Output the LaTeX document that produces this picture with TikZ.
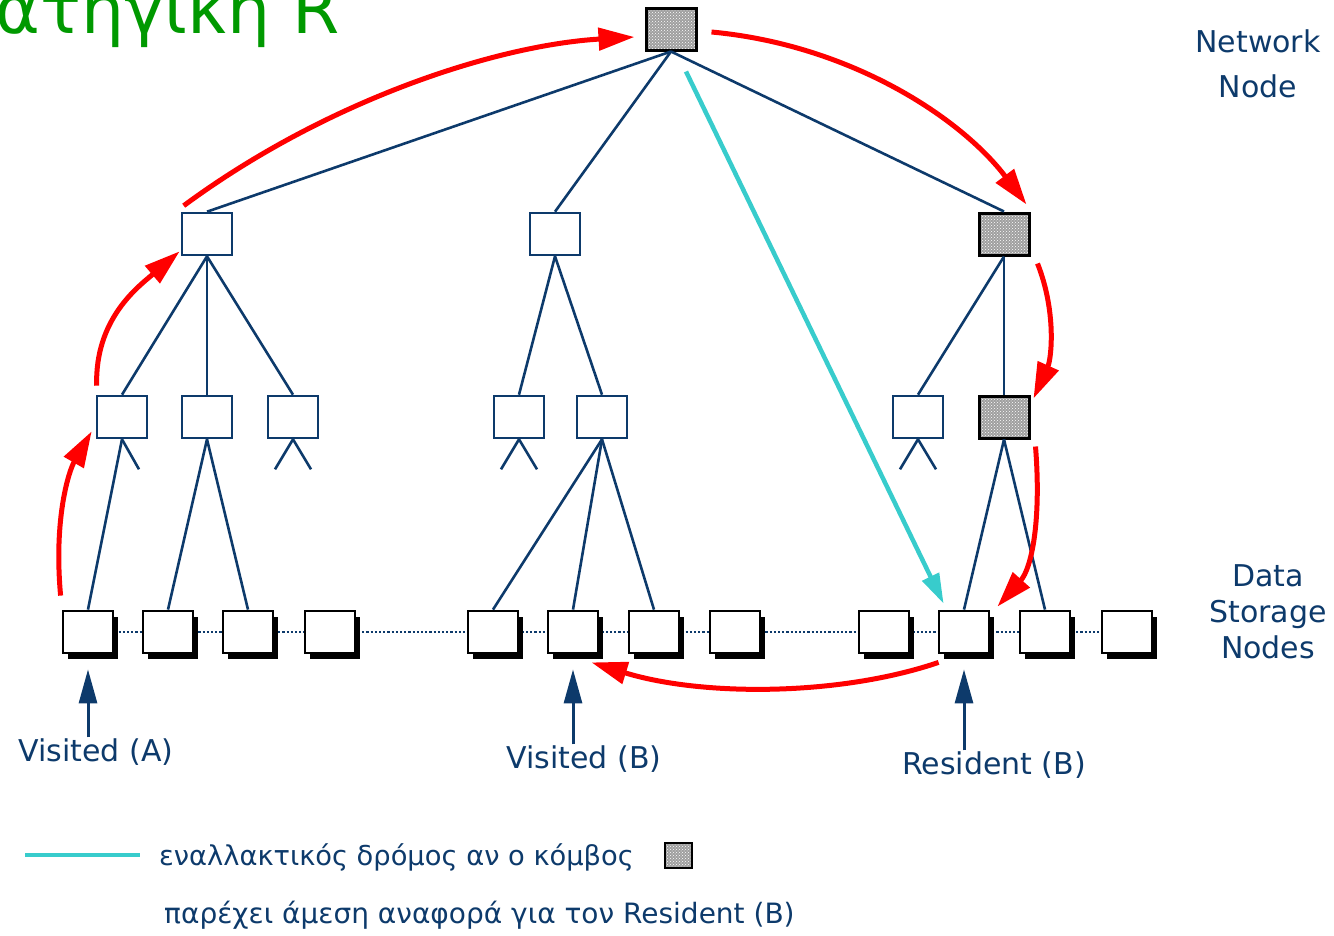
\documentclass[tikz,border=0pt]{standalone}
\usepackage{fontspec}
\setmainfont{DejaVu Sans}
\usepackage{xcolor}
\usepackage{tikz}
\usetikzlibrary{calc,arrows.meta,patterns,shadows,backgrounds}
\definecolor{navy}{HTML}{0D3A6B}
\definecolor{hot}{HTML}{FF0000}
\definecolor{altcol}{HTML}{38CCCC}
\definecolor{title}{HTML}{009900}
\tikzset{
  link/.style={draw=navy, line width=2.6pt},
  tnode/.style={draw=navy, line width=2.6pt, fill=white, minimum width=50pt, minimum height=42pt, inner sep=0pt},
  busy/.style={draw=black, line width=3pt, preaction={fill=gray!75}, pattern=crosshatch dots, pattern color=white,
    minimum width=50pt, minimum height=42pt, inner sep=0pt},
  store/.style={draw=black, line width=2.8pt, fill=white, minimum width=50pt, minimum height=42pt, inner sep=0pt,
    drop shadow={shadow xshift=5pt, shadow yshift=-6pt, opacity=1, fill=black}},
  chain/.style={draw=navy, line width=2.2pt, dotted},
  hop/.style={draw=hot, line width=5pt, -{Triangle[length=36pt,width=22pt]}},
  alt/.style={draw=altcol, line width=4.5pt},
  uparrow/.style={draw=navy, line width=3pt, -{Triangle[length=34pt,width=18pt]}},
  lbl/.style={text=navy, inner sep=1pt, font=\fontsize{30}{36}\selectfont}
}

\begin{document}
\begin{tikzpicture}[x=1pt, y=-1pt]
  \useasboundingbox (0,0) rectangle (1334,935);

  % tree
  \node[busy]  (root) at (671,29) {};
  \node[tnode] (inA) at (207,234) {};
  \node[tnode] (inB) at (555,234) {};
  \node[busy]  (inC) at (1004,234) {};
  \node[tnode] (mA1) at (122,417) {};
  \node[tnode] (mA2) at (207,417) {};
  \node[tnode] (mA3) at (293,417) {};
  \node[tnode] (mB1) at (519,417) {};
  \node[tnode] (mB2) at (602,417) {};
  \node[tnode] (mC1) at (918,417) {};
  \node[busy]  (mC2) at (1004,417) {};

  % data storage nodes
  \foreach \i/\x in {1/88,2/168,3/248,4/330,5/493,6/573,7/654,8/735,9/884,10/964,11/1045,12/1127}
    \node[store] (d\i) at (\x,632) {};
  \begin{pgfonlayer}{background}
    \draw[chain] (d1) -- (d12);
  \end{pgfonlayer}

  \foreach \c in {inA,inB,inC} \draw[link] (root.south) -- (\c.north);
  \foreach \c in {mA1,mA2,mA3} \draw[link] (inA.south) -- (\c.north);
  \foreach \c in {mB1,mB2} \draw[link] (inB.south) -- (\c.north);
  \foreach \c in {mC1,mC2} \draw[link] (inC.south) -- (\c.north);
  \draw[link] (mA1.south) -- (d1.north);
  \draw[link] (mA1.south) -- ($(mA1.south)+(17,30)$);
  \foreach \c in {d2,d3} \draw[link] (mA2.south) -- (\c.north);
  \foreach \c in {d5,d6,d7} \draw[link] (mB2.south) -- (\c.north);
  \foreach \c in {d10,d11} \draw[link] (mC2.south) -- (\c.north);
  \foreach \n in {mA3,mB1,mC1}
    \draw[link] ($(\n.south)+(-18,30)$) -- (\n.south) -- ($(\n.south)+(18,30)$);

  % side labels
  \node[lbl, align=center, font=\fontsize{30}{45}\selectfont] (netlbl) at (1258,64) {Network\\Node};
  \node[lbl, align=center] (datalbl) at (1268,612) {Data\\Storage\\Nodes};
  \node[text=title, anchor=base east, font=\fontsize{68}{80}\selectfont] (strat) at (343,33) {Στρατηγική R};

  % pointers
  \node[lbl] (visA) at (96,752) {Visited (A)};
  \node[lbl] (visB) at (584,759) {Visited (B)};
  \node[lbl] (resB) at (994,765) {Resident (B)};
  \draw[uparrow, shorten >=15pt] (visA.north -| d1) -- (d1.south);
  \draw[uparrow, shorten >=15pt] (visB.north -| d6) -- (d6.south);
  \draw[uparrow, shorten >=15pt] (resB.north -| d10) -- (d10.south);

  % red path
  \coordinate (r1s) at ($(d1.north west)+(-1,-14)$);
  \coordinate (r1e) at ($(mA1.south west)+(-4,-8)$);
  \coordinate (r2s) at ($(mA1.north west)+(1,-9)$);
  \coordinate (r2e) at ($(inA.south west)+(-1,-5)$);
  \coordinate (r3s) at ($(inA.north west)+(3,-6)$);
  \coordinate (r3e) at ($(root.west)+(-10,8)$);
  \coordinate (r4s) at ($(root.east)+(14,3)$);
  \coordinate (r4e) at ($(inC.north east)+(-4,-7)$);
  \coordinate (r5s) at ($(inC.south east)+(7,7)$);
  \coordinate (r5e) at ($(mC2.north east)+(3,4)$);
  \coordinate (r6s) at ($(mC2.south east)+(5,7)$);
  \coordinate (r6e) at ($(d10.north east)+(7,-3)$);
  \coordinate (r7s) at ($(d10.south west)+(1,8)$);
  \coordinate (r7e) at ($(d6.south east)+(-8,8)$);
  \draw[hop] (r1s) .. controls ($(r1s)+(-7,-77)$) and ($(r1e)+(-23,40)$) .. (r1e);
  \draw[hop] (r2s) .. controls ($(r2s)+(-2,-67)$) and ($(r2e)+(-41,35)$) .. (r2e);
  \draw[hop] (r3s) .. controls ($(r3s)+(145,-107)$) and ($(r3e)+(-136,8)$) .. (r3e);
  \draw[hop] (r4s) .. controls ($(r4s)+(140,13)$) and ($(r4e)+(-65,-86)$) .. (r4e);
  \draw[hop] (r5s) .. controls ($(r5s)+(19,48)$) and ($(r5e)+(18,-40)$) .. (r5e);
  \draw[hop] (r6s) .. controls ($(r6s)+(6,75)$) and ($(r6e)+(34,-38)$) .. (r6e);
  \draw[hop] (r7s) .. controls ($(r7s)+(-100,34)$) and ($(r7e)+(110,34)$) .. (r7e);

  % alternative route
  \draw[alt, -{Triangle[length=30pt,width=18pt]}] ($(root.south)+(15,20)$) -- ($(d10.north west)+(6,-6)$);

  % legend
  \coordinate (keyA) at (25,855);
  \coordinate (keyB) at (140,855);
  \draw[alt] (keyA) -- (keyB);
  \node[lbl, anchor=west, font=\fontsize{27.3}{33}\selectfont] (key1) at (158,857) {εναλλακτικός δρόμος αν ο κόμβος};
  \node[busy, minimum width=27pt, minimum height=25pt, line width=2pt] (keybox) at (678,855) {};
  \node[lbl, anchor=west, font=\fontsize{28}{34}\selectfont] (key2) at (163,915) {παρέχει άμεση αναφορά για τον Resident (B)};
\end{tikzpicture}
\end{document}
